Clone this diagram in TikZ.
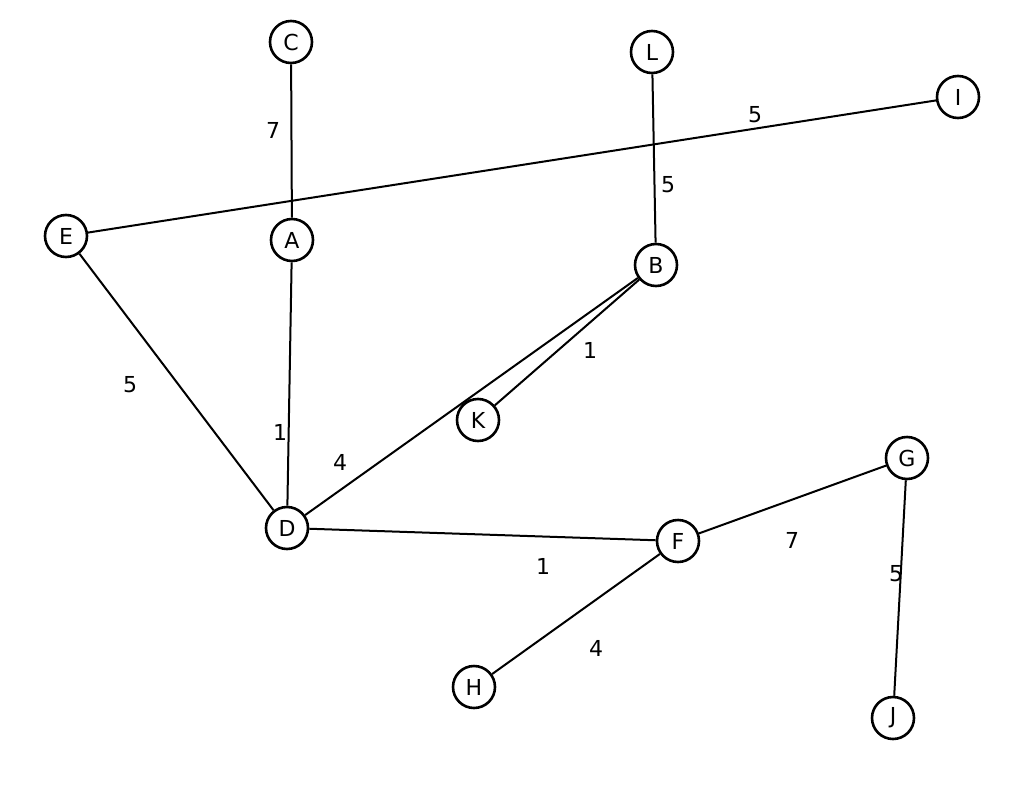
\documentclass[tikz,border=0pt]{standalone}
\usepackage{fontspec}
\setmainfont{DejaVu Sans}
\begin{document}
\begin{tikzpicture}[x=1pt,y=-1pt,
  vtx/.style={circle,draw,line width=2.6pt,minimum size=42pt,inner sep=0pt,font=\fontsize{22}{24}\selectfont},
  edge/.style={line width=2pt},
  wt/.style={font=\fontsize{22}{24}\selectfont}]
\useasboundingbox[fill=white] (0,0) rectangle (1024,789);
\node[vtx] (C) at (291,42) {C};
\node[vtx] (L) at (652,52) {L};
\node[vtx] (I) at (958,97) {I};
\node[vtx] (E) at (66,236) {E};
\node[vtx] (A) at (292,240) {A};
\node[vtx] (B) at (656,265) {B};
\node[vtx] (K) at (478,420) {K};
\node[vtx] (G) at (907,458) {G};
\node[vtx] (D) at (287,528) {D};
\node[vtx] (F) at (678,541) {F};
\node[vtx] (H) at (474,687) {H};
\node[vtx] (J) at (893,718) {J};
\draw[edge] (C)--(A); \draw[edge] (A)--(D); \draw[edge] (E)--(I);
\draw[edge] (L)--(B); \draw[edge] (B)--(K); \draw[edge] (B)--(D);
\draw[edge] (E)--(D); \draw[edge] (D)--(F); \draw[edge] (F)--(G);
\draw[edge] (F)--(H); \draw[edge] (G)--(J);
\node[wt] (w1) at (273,130) {7};
\node[wt] (w2) at (755,115) {5};
\node[wt] (w3) at (668,185) {5};
\node[wt] (w4) at (590,350) {1};
\node[wt] (w5) at (130,385) {5};
\node[wt] (w6) at (280,432) {1};
\node[wt] (w7) at (340,462) {4};
\node[wt] (w8) at (543,566) {1};
\node[wt] (w9) at (792,540) {7};
\node[wt] (w10) at (896,574) {5};
\node[wt] (w11) at (596,648) {4};
\end{tikzpicture}
\end{document}
